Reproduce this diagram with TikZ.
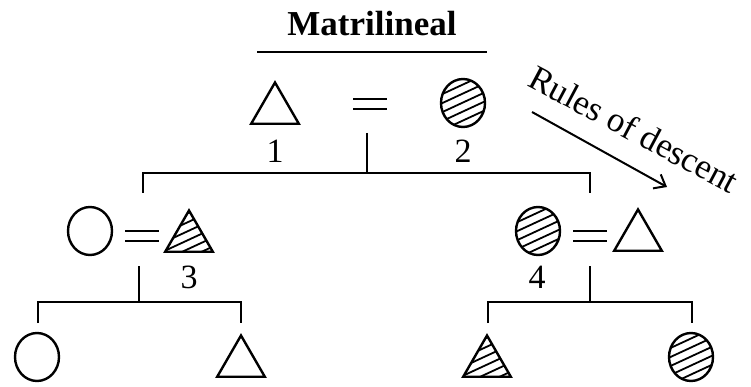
\documentclass[tikz,border=0pt]{standalone}
\usepackage{fontspec}
\setmainfont{Liberation Serif}
\usepackage{tikz}
\usetikzlibrary{arrows.meta,shapes.geometric}

\begin{document}
\begin{tikzpicture}[x=1pt,y=-1pt,line width=2.4pt,every node/.style={font=\fontsize{34}{40}\selectfont,inner sep=0pt},
male/.style={draw,regular polygon,regular polygon sides=3,minimum size=55pt},
female/.style={draw,ellipse,minimum width=44pt,minimum height=48pt},
hatched/.style={path picture={\foreach \k in {-6,...,6}\draw[line width=1.8pt]([shift={(-40,\k*9)}]path picture bounding box.center)--++(80,-37);}},
marry/.style={minimum width=34pt,minimum height=11pt,path picture={\draw[line width=2.4pt](path picture bounding box.north west)--(path picture bounding box.north east)(path picture bounding box.south west)--(path picture bounding box.south east);}}]
\useasboundingbox (0,0) rectangle (751,387);
% title
\node[anchor=base,font=\fontsize{35}{40}\selectfont\bfseries] (title) at (372,36) {Matrilineal};
\coordinate (ulL) at (257,52); \coordinate (ulR) at (487,52);
\draw (ulL)--(ulR);
% first generation
\node[male] (p1) at (275,110) {};
\node[marry] (eq1) at (370,104) {};
\node[female,hatched] (p2) at (463,103) {};
\node[anchor=base] (n1) at (275,163) {1};
\node[anchor=base] (n2) at (463,163) {2};
\coordinate (d1) at (367,133); \coordinate (b1) at (367,173);
\coordinate (s1L) at (143,193); \coordinate (s1R) at (590,193);
\draw (d1)--(b1); \draw (s1L)|-(b1)-|(s1R);
% second generation
\node[female] (p5) at (90,231) {};
\node[marry] (eq2) at (142,236) {};
\node[male,hatched] (p3) at (189,238) {};
\node[anchor=base] (n3) at (189,288) {3};
\node[female,hatched] (p4) at (538,231) {};
\node[marry] (eq3) at (590,236) {};
\node[male] (p6) at (638,237) {};
\node[anchor=base] (n4) at (537,288) {4};
\coordinate (d2) at (139,266); \coordinate (b2) at (139,302);
\coordinate (s2L) at (38,323); \coordinate (s2R) at (241,323);
\coordinate (d3) at (590,266); \coordinate (b3) at (590,302);
\coordinate (s3L) at (488,323); \coordinate (s3R) at (692,323);
\draw (d2)--(b2); \draw (s2L)|-(b2)-|(s2R);
\draw (d3)--(b3); \draw (s3L)|-(b3)-|(s3R);
% third generation
\node[female] (p7) at (37,357) {};
\node[male] (p8) at (241,363) {};
\node[male,hatched] (p9) at (487,363) {};
\node[female,hatched] (p10) at (691,357) {};
% descent
\node[rotate=-28,font=\fontsize{35}{40}\selectfont] (rules) at (634,129) {Rules of descent};
\coordinate (ra) at (532,112); \coordinate (rb) at (667,187);
\draw[line width=2pt,-{Straight Barb[length=10pt,width=16pt]}] (ra)--(rb);
\end{tikzpicture}
\end{document}
